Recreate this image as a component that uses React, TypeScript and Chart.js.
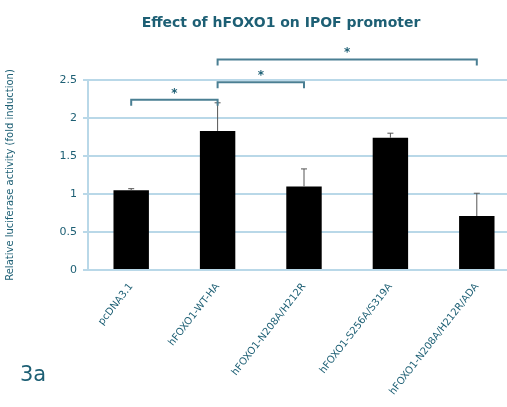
import React, { useEffect, useRef } from "react";
import { Chart, registerables } from "chart.js";

Chart.register(...registerables);

const categories = [
  "pcDNA3.1",
  "hFOXO1-WT-HA",
  "hFOXO1-N208A/H212R",
  "hFOXO1-S256A/S319A",
  "hFOXO1-N208A/H212R/ADA",
];
const values = [1.05, 1.83, 1.1, 1.74, 0.71];
const errors = [0.02, 0.37, 0.23, 0.06, 0.3];
const yTicks = [0, 0.5, 1, 1.5, 2, 2.5];
const bracketFrom = [0, 1, 1];
const bracketTo = [1, 2, 4];
const bracketLevel = [2.24, 2.47, 2.77];
const bracketMark = ["*", "*", "*"];
const chartTitle = "Effect of hFOXO1 on IPOF promoter";
const panelLabel = "3a";

const TEXT = "#1d5f74";
const LINE = "#4a7f93";
const GRID = "#b9d8e8";

const overlay = {
  id: "overlay",
  afterDatasetsDraw(chart: any) {
    const ctx = chart.ctx;
    const x = chart.scales.x;
    const y = chart.scales.y;
    ctx.save();
    // error bars
    ctx.strokeStyle = "#555";
    ctx.lineWidth = 1;
    values.forEach((v, i) => {
      const cx = x.getPixelForValue(i);
      const y0 = y.getPixelForValue(v);
      const y1 = y.getPixelForValue(v + errors[i]);
      ctx.beginPath();
      ctx.moveTo(cx, y0);
      ctx.lineTo(cx, y1);
      ctx.moveTo(cx - 3, y1);
      ctx.lineTo(cx + 3, y1);
      ctx.stroke();
    });
    // brackets
    ctx.strokeStyle = LINE;
    ctx.fillStyle = TEXT;
    ctx.lineWidth = 2;
    bracketFrom.forEach((a, k) => {
      const xa = x.getPixelForValue(a);
      const xb = x.getPixelForValue(bracketTo[k]);
      const yy = y.getPixelForValue(bracketLevel[k]);
      ctx.beginPath();
      ctx.moveTo(xa, yy + 6);
      ctx.lineTo(xa, yy);
      ctx.lineTo(xb, yy);
      ctx.lineTo(xb, yy + 6);
      ctx.stroke();
      ctx.font = "bold 12px 'DejaVu Sans'";
      ctx.textAlign = "center";
      ctx.textBaseline = "alphabetic";
      ctx.fillText(bracketMark[k], (xa + xb) / 2, yy - 3);
    });
    // title
    ctx.fillStyle = TEXT;
    ctx.font = "bold 14px 'DejaVu Sans'";
    ctx.textAlign = "center";
    ctx.textBaseline = "middle";
    ctx.fillText(chartTitle, 281, 23);
    // panel label
    ctx.font = "21px 'DejaVu Sans'";
    ctx.textAlign = "left";
    ctx.fillText(panelLabel, 20, 376);
    ctx.restore();
  },
};

export default function App() {
  const ref = useRef<HTMLCanvasElement>(null);
  useEffect(() => {
    document.body.style.margin = "0";
    document.body.style.overflow = "hidden";
    const chart = new Chart(ref.current!, {
      type: "bar",
      data: {
        labels: categories,
        datasets: [
          {
            data: values,
            backgroundColor: "#000",
            borderWidth: 0,
            categoryPercentage: 1,
            barPercentage: 0.41,
          },
        ],
      },
      plugins: [overlay],
      options: {
        animation: false,
        responsive: false,
        layout: { padding: { left: 4, right: 0, top: 80, bottom: 0 } },
        plugins: {
          legend: { display: false },
          tooltip: { enabled: false },
          title: { display: false },
        },
        scales: {
          x: {
            grid: { display: false },
            border: { color: GRID, width: 2 },
            ticks: {
              color: TEXT,
              font: { size: 10, family: "'DejaVu Sans'" },
              minRotation: 52,
              maxRotation: 52,
              autoSkip: false,
            },
            afterFit(scale: any) {
              scale.height = 137;
            },
          },
          y: {
            min: 0,
            max: 2.5,
            afterBuildTicks(scale: any) {
              scale.ticks = yTicks.map((v) => ({ value: v }));
            },
            grid: { color: GRID, lineWidth: 2, tickLength: 5 },
            border: { color: GRID, width: 2 },
            ticks: {
              color: TEXT,
              font: { size: 11, family: "'DejaVu Sans'" },
              padding: 6,
              callback: (v: any) => String(v),
            },
            title: {
              display: true,
              text: "Relative luciferase activity (fold induction)",
              color: TEXT,
              font: { size: 10, family: "'DejaVu Sans'" },
              padding: { top: 0, bottom: 4 },
            },
            afterFit(scale: any) {
              scale.width = 84;
            },
          },
        },
      },
    });
    return () => chart.destroy();
  }, []);
  return (
    <div style={{ width: 520, height: 407 }}>
      <canvas ref={ref} width={520} height={407} style={{ width: 520, height: 407, display: "block" }} />
    </div>
  );
}
